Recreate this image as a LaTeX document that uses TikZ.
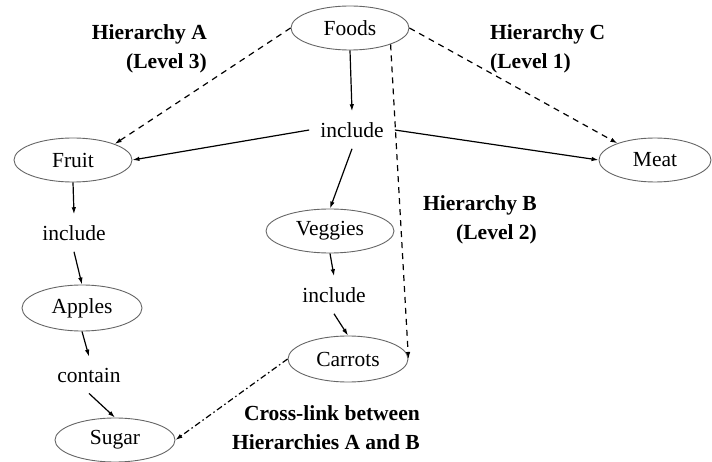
\documentclass[tikz,border=0pt]{standalone}
\usepackage{fontspec}
\setmainfont{Liberation Serif}
\usetikzlibrary{shapes.geometric,arrows.meta}
\begin{document}
\begin{tikzpicture}[x=1pt,y=-1pt,
  every node/.style={font=\fontsize{21.5}{29}\selectfont},
  concept/.style={ellipse,draw=black!60,line width=0.9pt,inner sep=0pt,minimum width=118pt,minimum height=44pt},
  linkword/.style={inner sep=11pt},
  lbl/.style={font=\fontsize{21.5}{29}\selectfont\bfseries,inner sep=0pt},
  arr/.style={line width=1.2pt,-{Latex[length=7pt,width=4.5pt]}},
  hier/.style={arr,dash pattern=on 6pt off 5pt},
  cross/.style={arr,dash pattern=on 6pt off 3pt on 1.5pt off 3pt}]
\useasboundingbox (0,0) rectangle (712,462);
\node[concept] (foods) at (350,28) {Foods};
\node[linkword] (inc1) at (352,130) {include};
\node[concept] (fruit) at (73,160) {Fruit};
\node[concept,minimum width=112pt] (meat) at (655,160) {Meat};
\node[concept,minimum width=128pt] (veg) at (330,231) {Veggies};
\node[linkword] (inc2) at (334,295) {include};
\node[concept,minimum width=120pt,minimum height=46pt] (carrots) at (348,359) {Carrots};
\node[linkword] (incf) at (74,233) {include};
\node[concept,minimum width=120pt,minimum height=46pt] (apples) at (82,308) {Apples};
\node[linkword] (contain) at (89,375) {contain};
\node[concept,minimum width=120pt] (sugar) at (115,440) {Sugar};

\node[lbl,align=right,anchor=east] (ha) at (207,49) {Hierarchy A\\(Level 3)};
\node[lbl,align=left,anchor=west] (hc) at (490,49) {Hierarchy C\\(Level 1)};
\node[lbl,align=right,anchor=east] (hb) at (537,220) {Hierarchy B\\(Level 2)};
\node[lbl,align=right,anchor=east] (cl) at (420,428) {Cross-link between\\Hierarchies A and B};

\draw[arr] (foods.south) -- (inc1.north);
\draw[arr] (inc1.west) -- (fruit.east);
\draw[arr] (inc1.east) -- (meat.west);
\draw[arr] (inc1.south) -- (veg.north);
\draw[arr] (veg.south) -- (inc2.north);
\draw[arr] (inc2.south) -- (carrots.north);
\draw[arr] (fruit.south) -- (incf.north);
\draw[arr] (incf.south) -- (apples.north);
\draw[arr] (apples.south) -- (contain.north);
\draw[arr] (contain.south) -- (sugar.north);

\draw[hier] (foods.west) -- (fruit.21);
\draw[hier] (foods.east) -- (meat.156);
\draw[hier] (foods.-22) -- (carrots.east);
\draw[cross] (carrots.west) -- (sugar.east);
\end{tikzpicture}
\end{document}
